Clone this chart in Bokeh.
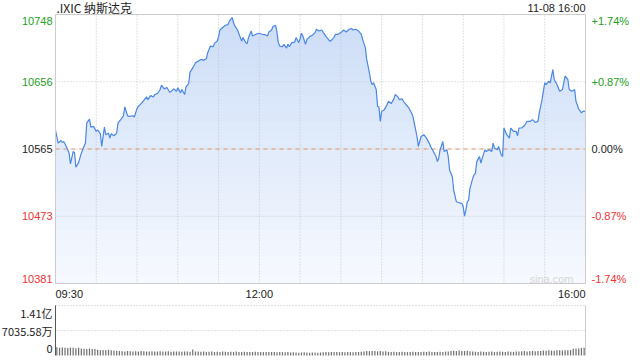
import numpy as np
from bokeh.plotting import figure
from bokeh.models import Range1d, Label
from bokeh.embed import file_html
from bokeh.resources import INLINE

# ---------------- data ----------------
title_text = ".IXIC 纳斯达克"
stamp_text = "11-08 16:00"
prev_close = 10564.52
price_ticks = [10748.34, 10656.43, 10564.52, 10472.61, 10380.70]
price_tick_labels = ["10748", "10656", "10565", "10473", "10381"]
pct_tick_labels = ["+1.74%", "+0.87%", "0.00%", "-0.87%", "-1.74%"]
time_ticks = [0, 150, 390]
time_labels = ["09:30", "12:00", "16:00"]
grid_minutes = [30, 60, 90, 120, 150, 180, 210, 240, 270, 300, 330, 360]

minutes = [0, 2, 4, 5, 6, 7, 9, 10, 11, 13, 14, 15, 17, 19, 20, 22, 23, 25, 26, 28,
           30, 31, 33, 34, 36, 37, 39, 40, 41, 43, 45, 46, 48, 50, 51, 53, 54, 57, 58, 60,
           61, 63, 65, 67, 68, 70, 72, 73, 75, 77, 78, 80, 82, 84, 85, 87, 89, 90, 92, 93,
           95, 96, 98, 99, 100, 102, 103, 105, 107, 109, 111, 112, 114, 116, 117, 119, 120, 121, 123, 125,
           127, 128, 130, 131, 132, 134, 136, 137, 138, 140, 141, 142, 144, 145, 146, 148, 150, 152, 154, 156,
           157, 159, 160, 162, 163, 164, 165, 167, 168, 170, 171, 172, 174, 176, 177, 179, 180, 181, 182, 184,
           185, 187, 189, 191, 192, 194, 196, 197, 199, 202, 203, 205, 206, 208, 210, 212, 214, 216, 218, 219,
           221, 223, 225, 226, 228, 229, 231, 232, 233, 234, 236, 237, 238, 239, 240, 242, 244, 245, 247, 249,
           250, 252, 253, 255, 256, 258, 260, 262, 263, 264, 266, 267, 269, 271, 273, 275, 276, 278, 280, 281,
           282, 283, 285, 286, 288, 289, 290, 292, 293, 295, 297, 299, 300, 301, 302, 303, 304, 305, 307, 308,
           309, 310, 312, 313, 314, 316, 317, 319, 321, 322, 323, 325, 326, 328, 329, 330, 332, 334, 335, 337,
           339, 340, 341, 343, 345, 347, 349, 351, 353, 355, 356, 358, 360, 361, 363, 364, 366, 367, 369, 371,
           373, 375, 377, 378, 380, 382, 383, 385, 387, 388, 390]

price = [10589.9, 10572.6, 10576.1, 10573.4, 10574.8, 10571.6, 10563.4, 10558.8, 10544.1, 10561.0,
         10559.7, 10539.6, 10545.9, 10558.8, 10563.4, 10572.6, 10600.0, 10605.5, 10594.5, 10595.4,
         10588.5, 10590.8, 10585.3, 10567.9, 10594.5, 10584.0, 10586.3, 10579.4, 10585.3, 10582.6,
         10586.3, 10600.0, 10604.6, 10610.0, 10622.0, 10610.0, 10609.1, 10610.0, 10608.3, 10620.1,
         10622.8, 10626.5, 10631.1, 10635.7, 10632.0, 10637.5, 10635.7, 10638.9, 10640.3, 10645.8,
         10651.7, 10646.7, 10648.5, 10642.0, 10643.0, 10646.7, 10643.4, 10648.1, 10641.2, 10645.8,
         10638.9, 10649.5, 10654.0, 10669.5, 10672.3, 10678.7, 10682.4, 10684.6, 10687.0, 10686.0,
         10687.9, 10696.2, 10705.2, 10704.4, 10708.9, 10712.1, 10718.1, 10727.2, 10730.5, 10733.6,
         10734.6, 10739.6, 10744.2, 10737.4, 10732.7, 10727.2, 10716.8, 10712.1, 10716.8, 10709.9,
         10708.5, 10716.8, 10725.8, 10719.0, 10719.9, 10721.7, 10722.7, 10721.3, 10720.9, 10719.0,
         10724.4, 10727.2, 10731.9, 10733.6, 10723.6, 10709.9, 10705.2, 10704.4, 10707.6, 10702.5,
         10707.6, 10704.4, 10709.9, 10710.7, 10716.8, 10709.9, 10715.4, 10722.7, 10719.0, 10707.6,
         10714.4, 10718.1, 10719.9, 10723.6, 10728.2, 10725.8, 10727.2, 10724.0, 10718.5, 10711.7,
         10713.0, 10717.2, 10721.3, 10721.3, 10723.6, 10727.2, 10724.4, 10728.2, 10729.1, 10727.2,
         10728.2, 10725.8, 10721.3, 10714.4, 10703.0, 10687.0, 10668.7, 10657.2, 10652.6, 10655.0,
         10645.8, 10622.8, 10622.0, 10602.2, 10616.0, 10618.3, 10625.2, 10629.7, 10626.5, 10633.0,
         10638.9, 10635.7, 10632.0, 10633.0, 10629.7, 10625.2, 10620.6, 10613.8, 10609.1, 10600.0,
         10581.6, 10567.9, 10581.6, 10584.0, 10579.4, 10572.6, 10567.9, 10561.0, 10554.2, 10547.3,
         10552.0, 10563.4, 10574.8, 10561.0, 10563.4, 10554.2, 10535.9, 10526.7, 10508.4, 10492.4,
         10491.0, 10490.2, 10485.5, 10472.7, 10481.0, 10492.4, 10494.7, 10510.8, 10524.5, 10529.0,
         10531.4, 10547.3, 10554.2, 10545.1, 10552.0, 10563.4, 10561.0, 10563.4, 10561.0, 10572.6,
         10565.7, 10563.4, 10567.9, 10556.5, 10554.2, 10593.2, 10584.0, 10579.4, 10593.2, 10588.5,
         10588.5, 10582.6, 10593.2, 10593.2, 10596.3, 10602.2, 10602.2, 10604.6, 10600.8, 10602.2,
         10613.8, 10632.0, 10655.0, 10652.6, 10657.2, 10655.0, 10673.2, 10659.5, 10652.6, 10643.4,
         10645.8, 10664.0, 10659.5, 10645.8, 10643.4, 10645.8, 10629.7, 10619.2, 10613.8, 10616.0,
         10616.2]

# volume per 2-minute bin, in units of 万 (10k shares)
volume_wan = [2300, 2150, 2250, 2200, 2100, 2250, 2150, 2050, 2200, 2000,
              1900, 1850, 1950, 1800, 1850,
              1600, 1500, 1550, 1450, 1600, 1500, 1400, 1350,
              1250, 1200, 1150, 1250, 1200, 1100, 1200, 1150, 1250, 1200, 1100, 1150, 1200, 1150,
              1100, 1200, 1150, 1100, 1200, 1050, 1100, 1150, 1100, 1050, 1150, 1100, 1050,
              1700,
              1150, 1100, 1050, 1100, 1000, 1050, 1100, 1000, 1050, 1000, 1100, 1050, 1000, 1050,
              1000, 1100, 1000, 950, 1050, 1000, 950, 1000, 1050, 950, 1000, 950, 1000, 950, 1000,
              950, 900, 1000, 950, 900, 950,
              850, 900, 850, 800, 850, 900, 850, 800, 850, 850, 800, 850,
              900, 950, 900, 950, 1000, 950, 900, 950, 900, 1000, 950, 900, 950, 1000, 1050,
              1150, 1250, 1200, 1300, 1250, 1200, 1250, 1150, 1200,
              1050, 1000, 1050, 950, 1000, 1050, 1000, 950, 1000, 1050, 1000, 950, 1000, 1050,
              1000, 1100, 1000, 950, 1000, 1050, 1000, 1100, 1150,
              1300, 1350, 1250, 1400, 1300, 1250, 1350, 1200,
              1100, 1050, 1000, 1100, 1050, 1000, 1050, 1100, 1000, 1050, 1100, 1050, 1000, 1100,
              1050, 1000, 1100, 1150,
              1200, 1250, 1150, 1200, 1250, 1200, 1300, 1250,
              1400, 1350, 1450, 1400, 1350, 1450, 1500, 1400, 1450, 1500, 1550,
              1900, 2000, 1950, 2100, 2150]
vol_ticks = [14071.16, 7035.58, 0]
vol_tick_labels = ["1.41亿", "7035.58万", "0"]

# ---------------- styles / layout ----------------
W, H = 640, 360
FL, FR = 55, 585          # plot frame left/right (px)
PT, PB = 14, 283          # price panel top/bottom (px)
VT, VB = 305, 355         # volume panel top/bottom (px)
GREEN = "#22a022"
RED = "#ee3333"
DARK = "#222222"
tick_colors = [GREEN, GREEN, DARK, RED, RED]
GRID = "#c4c4c4"
LATIN = "Liberation Sans"
CJK = "Noto Sans CJK SC"

lo, hi = price_ticks[-1], price_ticks[0]
n_minutes = time_ticks[-1]

# map the whole canvas so that every text lies inside the frame
mpp = n_minutes / (FR - FL)                 # minutes per pixel
x_start, x_end = -FL * mpp, n_minutes + (W - FR) * mpp
ppp = (hi - lo) / (PB - PT)                 # price per pixel
y_start, y_end = lo - (H - PB) * ppp, hi + PT * ppp
vmax = vol_ticks[0]
vpp = vmax / (VB - VT)
v_start, v_end = -(H - VB) * vpp, vmax + VT * vpp

p = figure(width=W, height=H, x_range=Range1d(x_start, x_end), y_range=Range1d(y_start, y_end),
           x_axis_type=None, y_axis_type=None, toolbar_location=None, output_backend="svg",
           min_border=0, min_border_left=0, min_border_right=0, min_border_top=0, min_border_bottom=0)
p.extra_y_ranges = {"vol": Range1d(v_start, v_end)}
p.grid.visible = False
p.outline_line_color = None
p.background_fill_color = "white"
p.border_fill_color = "white"

# gradient fill under the price line (bands drawn from darkest/top to lightest/bottom)
pr = np.array(price)
top_rgb = np.array([205, 221, 247])
bot_rgb = np.array([247, 250, 255])
n_bands = 30
for k in range(n_bands, 0, -1):
    t = k / n_bands
    cap = lo + (hi - lo) * t
    rgb = (bot_rgb + (top_rgb - bot_rgb) * t).round().astype(int)
    col = "#%02x%02x%02x" % tuple(rgb)
    p.varea(x=minutes, y1=np.minimum(pr, cap), y2=lo, fill_color=col, fill_alpha=1.0)

# grid lines
p.segment(x0=grid_minutes, y0=[lo] * len(grid_minutes), x1=grid_minutes, y1=[hi] * len(grid_minutes),
          line_color=GRID, line_dash="1 2", line_width=1)
mid = price_ticks[1:4]
p.segment(x0=[0] * len(mid), y0=mid, x1=[n_minutes] * len(mid), y1=mid,
          line_color=GRID, line_dash="1 2", line_width=1)
p.segment(x0=[0], y0=[prev_close], x1=[n_minutes], y1=[prev_close],
          line_color="#e8956b", line_dash="4 4", line_width=1)

p.line(minutes, price, line_color="#4a88e8", line_width=1.2)

# frame border of the price panel
p.quad(left=[0], right=[n_minutes], bottom=[lo], top=[hi], fill_color=None, line_color="#cccccc", line_width=1)

# axis labels (middle baseline, first/last nudged inside the panel)
price_label_shift = [-6, 0, 0, 0, 5]
for i, (v, lab, pct) in enumerate(zip(price_ticks, price_tick_labels, pct_tick_labels)):
    p.add_layout(Label(x=0, y=v, x_offset=-3, y_offset=price_label_shift[i], text=lab,
                       text_align="right", text_baseline="middle",
                       text_font=LATIN, text_font_size="11px", text_color=tick_colors[i]))
    p.add_layout(Label(x=n_minutes, y=v, x_offset=6, y_offset=price_label_shift[i], text=pct,
                       text_align="left", text_baseline="middle",
                       text_font=LATIN, text_font_size="11px", text_color=tick_colors[i]))

aligns = ["left", "center", "right"]
for tm, lab, al in zip(time_ticks, time_labels, aligns):
    p.add_layout(Label(x=tm, y=lo, y_offset=-10, text=lab, text_align=al, text_baseline="middle",
                       text_font=LATIN, text_font_size="11px", text_color=DARK))

p.add_layout(Label(x=0, y=hi, x_offset=1, y_offset=7, text=title_text, text_align="left",
                   text_baseline="middle", text_font=CJK, text_font_size="12px", text_color=DARK))
p.add_layout(Label(x=n_minutes, y=hi, y_offset=7, text=stamp_text, text_align="right",
                   text_baseline="middle", text_font=LATIN, text_font_size="11px", text_color=DARK))
p.add_layout(Label(x=n_minutes, y=lo, x_offset=-12, y_offset=5, text="sina.com", text_align="right",
                   text_baseline="middle", text_font=LATIN, text_font_size="11px", text_color="#d6d6d6"))

# ---------------- volume panel ----------------
vol_x = [2 * i + 1 for i in range(len(volume_wan))]
p.vbar(x=vol_x, width=0.9, top=volume_wan, bottom=0, fill_color="#707070", line_color=None,
       y_range_name="vol")
vg = vol_ticks[:2]
p.segment(x0=[0] * len(vg), y0=vg, x1=[n_minutes] * len(vg), y1=vg,
          line_color=GRID, line_dash="1 2", line_width=1, y_range_name="vol")
p.segment(x0=[0], y0=[0], x1=[0], y1=[vmax], line_color="#555555", line_width=1, y_range_name="vol")
p.segment(x0=[n_minutes], y0=[0], x1=[n_minutes], y1=[vmax], line_color="#cccccc", line_width=1,
          y_range_name="vol")
vol_label_shift = [-7, 0, 7]
for i, (v, lab) in enumerate(zip(vol_ticks, vol_tick_labels)):
    p.add_layout(Label(x=0, y=v, x_offset=-3, y_offset=vol_label_shift[i], text=lab,
                       text_align="right", text_baseline="middle",
                       text_font=CJK, text_font_size="11px", text_color=DARK, y_range_name="vol"))

open("out.html", "w").write(file_html(p, INLINE))
